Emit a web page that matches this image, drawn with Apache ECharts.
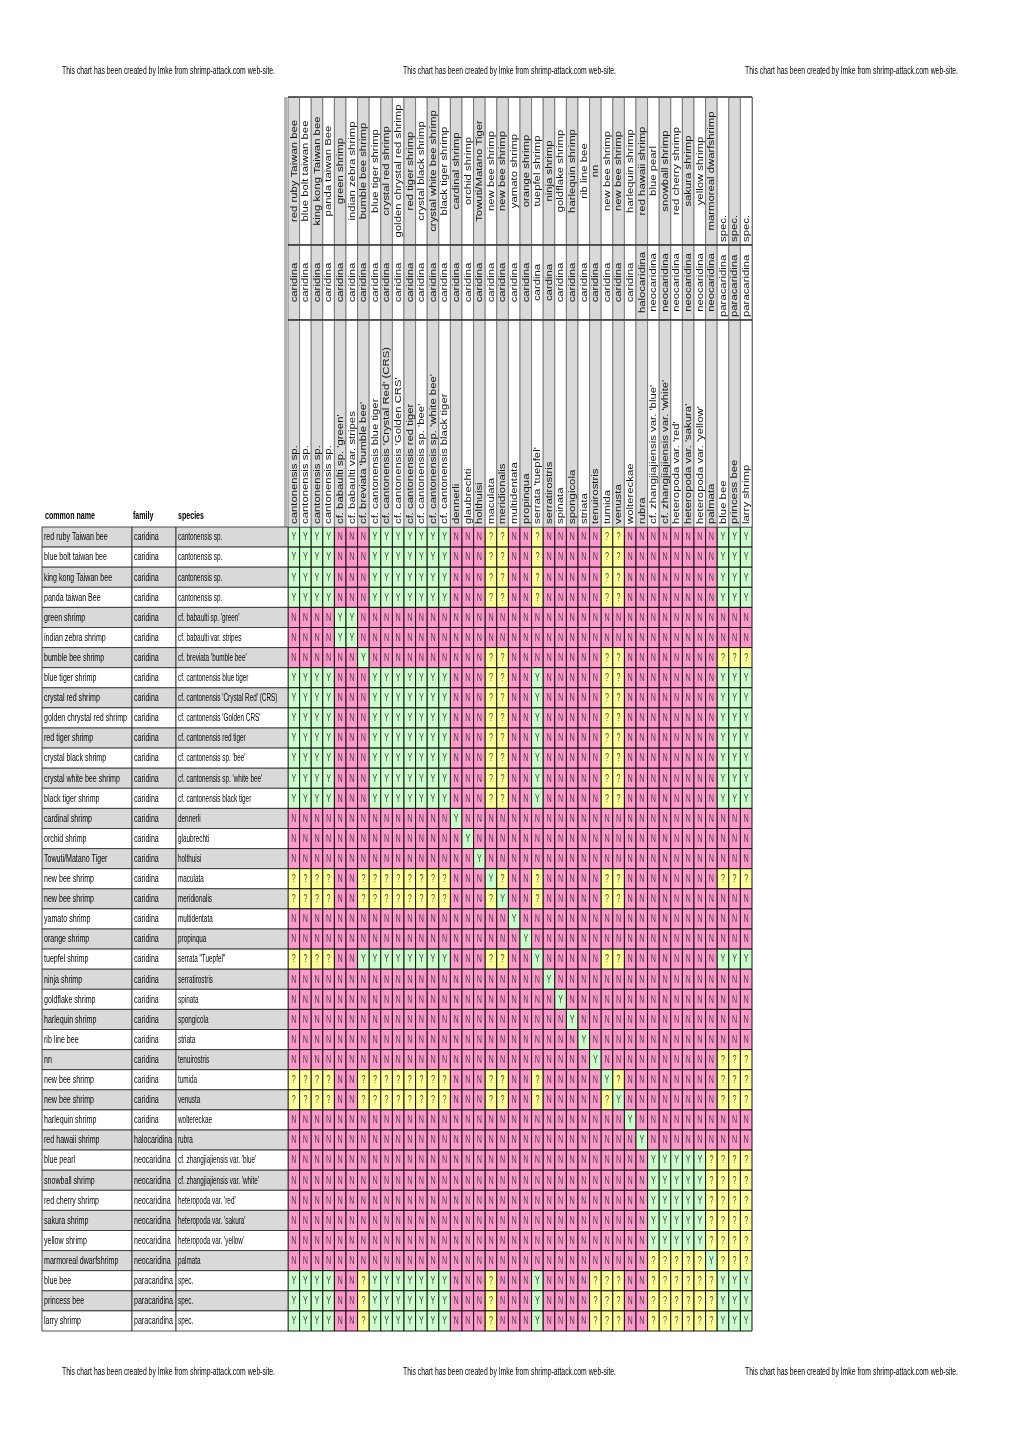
<!DOCTYPE html>
<html><head><meta charset="utf-8">
<script src="https://cdn.jsdelivr.net/npm/echarts@6/dist/echarts.min.js"></script>
<style>html,body{margin:0;padding:0;background:#fff}#chart{width:1020px;height:1442px}</style>
</head><body><div id="chart"></div>
<script>
// ---------- data ----------
const commonNames = ["red ruby Taiwan bee","blue bolt taiwan bee","king kong Taiwan bee","panda taiwan Bee","green shrimp","indian zebra shrimp","bumble bee shrimp","blue tiger shrimp","crystal red shrimp","golden chrystal red shrimp","red tiger shrimp","crystal black shrimp","crystal white bee shrimp","black tiger shrimp","cardinal shrimp","orchid shrimp","Towuti/Matano Tiger","new bee shrimp","new bee shrimp","yamato shrimp","orange shrimp","tuepfel shrimp","ninja shrimp","goldflake shrimp","harlequin shrimp","rib line bee","nn","new bee shrimp","new bee shrimp","harlequin shrimp","red hawaii shrimp","blue pearl","snowball shrimp","red cherry shrimp","sakura shrimp","yellow shrimp","marmoreal dwarfshrimp","blue bee","princess bee","larry shrimp"];
const families = ["caridina","caridina","caridina","caridina","caridina","caridina","caridina","caridina","caridina","caridina","caridina","caridina","caridina","caridina","caridina","caridina","caridina","caridina","caridina","caridina","caridina","caridina","caridina","caridina","caridina","caridina","caridina","caridina","caridina","caridina","halocaridina","neocaridina","neocaridina","neocaridina","neocaridina","neocaridina","neocaridina","paracaridina","paracaridina","paracaridina"];
const species = ["cantonensis sp.","cantonensis sp.","cantonensis sp.","cantonensis sp.","cf. babaulti sp. 'green'","cf. babaulti var. stripes","cf. breviata 'bumble bee'","cf. cantonensis blue tiger","cf. cantonensis 'Crystal Red' (CRS)","cf. cantonensis 'Golden CRS'","cf. cantonensis red tiger","cf. cantonensis sp. 'bee'","cf. cantonensis sp. 'white bee'","cf. cantonensis black tiger","dennerli","glaubrechti","holthuisi","maculata","meridionalis","multidentata","propinqua","serrata \"Tuepfel\"","serratirostris","spinata","spongicola","striata","tenuirostris","tumida","venusta","woltereckae","rubra","cf. zhangjiajiensis var. 'blue'","cf. zhangjiajiensis var. 'white'","heteropoda var. 'red'","heteropoda var. 'sakura'","heteropoda var. 'yellow'","palmata","spec.","spec.","spec."];
// column header texts (top / middle / bottom blocks)
const colCommon = ["red ruby Taiwan bee","blue bolt taiwan bee","king kong Taiwan bee","panda taiwan Bee","green shrimp","indian zebra shrimp","bumble bee shrimp","blue tiger shrimp","crystal red shrimp","golden chrystal red shrimp","red tiger shrimp","crystal black shrimp","crystal white bee shrimp","black tiger shrimp","cardinal shrimp","orchid shrimp","Towuti/Matano Tiger","new bee shrimp","new bee shrimp","yamato shrimp","orange shrimp","tuepfel shrimp","ninja shrimp","goldflake shrimp","harlequin shrimp","rib line bee","nn","new bee shrimp","new bee shrimp","harlequin shrimp","red hawaii shrimp","blue pearl","snowball shrimp","red cherry shrimp","sakura shrimp","yellow shrimp","marmoreal dwarfshrimp","spec.","spec.","spec."];
const colFamily = ["caridina","caridina","caridina","caridina","caridina","caridina","caridina","caridina","caridina","caridina","caridina","caridina","caridina","caridina","caridina","caridina","caridina","caridina","caridina","caridina","caridina","cardina","cardina","caridina","caridina","caridina","caridina","caridina","caridina","caridina","halocaridina","neocaridina","neocaridina","neocaridina","neocaridina","neocaridina","neocaridina","paracaridina","paracaridina","paracaridina"];
const colSpecies = ["cantonensis sp.","cantonensis sp.","cantonensis sp.","cantonensis sp.","cf. babaulti sp. 'green'","cf. babaulti var. stripes","cf. breviata 'bumble bee'","cf. cantonensis blue tiger","cf. cantonensis 'Crystal Red' (CRS)","cf. cantonensis 'Golden CRS'","cf. cantonensis red tiger","cf. cantonensis sp. 'bee'","cf. cantonensis sp. 'white bee'","cf. cantonensis black tiger","dennerli","glaubrechti","holthuisi","maculata","meridionalis","multidentata","propinqua","serrata 'tuepfel'","serratirostris","spinata","spongicola","striata","tenuirostris","tumida","venusta","woltereckae","rubra","cf. zhangjiajiensis var. 'blue'","cf. zhangjiajiensis var. 'white'","heteropoda var. 'red'","heteropoda var. 'sakura'","heteropoda var. 'yellow'","palmata","blue bee","princess bee","larry shrimp"];
// compatibility matrix: one string per row, one character per column
const compat = [
"YYYYNNNYYYYYYYNNN??NN?NNNNN??NNNNNNNNYYY",
"YYYYNNNYYYYYYYNNN??NN?NNNNN??NNNNNNNNYYY",
"YYYYNNNYYYYYYYNNN??NN?NNNNN??NNNNNNNNYYY",
"YYYYNNNYYYYYYYNNN??NN?NNNNN??NNNNNNNNYYY",
"NNNNYYNNNNNNNNNNNNNNNNNNNNNNNNNNNNNNNNNN",
"NNNNYYNNNNNNNNNNNNNNNNNNNNNNNNNNNNNNNNNN",
"NNNNNNYNNNNNNNNNN??NNNNNNNN??NNNNNNNN???",
"YYYYNNNYYYYYYYNNN??NNYNNNNN??NNNNNNNNYYY",
"YYYYNNNYYYYYYYNNN??NNYNNNNN??NNNNNNNNYYY",
"YYYYNNNYYYYYYYNNN??NNYNNNNN??NNNNNNNNYYY",
"YYYYNNNYYYYYYYNNN??NNYNNNNN??NNNNNNNNYYY",
"YYYYNNNYYYYYYYNNN??NNYNNNNN??NNNNNNNNYYY",
"YYYYNNNYYYYYYYNNN??NNYNNNNN??NNNNNNNNYYY",
"YYYYNNNYYYYYYYNNN??NNYNNNNN??NNNNNNNNYYY",
"NNNNNNNNNNNNNNYNNNNNNNNNNNNNNNNNNNNNNNNN",
"NNNNNNNNNNNNNNNYNNNNNNNNNNNNNNNNNNNNNNNN",
"NNNNNNNNNNNNNNNNYNNNNNNNNNNNNNNNNNNNNNNN",
"????NN????????NNNY?NN?NNNNN??NNNNNNNN???",
"????NN????????NNN?YNN?NNNNN??NNNNNNNNNNN",
"NNNNNNNNNNNNNNNNNNNYNNNNNNNNNNNNNNNNNNNN",
"NNNNNNNNNNNNNNNNNNNNYNNNNNNNNNNNNNNNNNNN",
"????NNYYYYYYYYNNN??NNYNNNNN??NNNNNNNNYYY",
"NNNNNNNNNNNNNNNNNNNNNNYNNNNNNNNNNNNNNNNN",
"NNNNNNNNNNNNNNNNNNNNNNNYNNNNNNNNNNNNNNNN",
"NNNNNNNNNNNNNNNNNNNNNNNNYNNNNNNNNNNNNNNN",
"NNNNNNNNNNNNNNNNNNNNNNNNNYNNNNNNNNNNNNNN",
"NNNNNNNNNNNNNNNNNNNNNNNNNNYNNNNNNNNNN???",
"????NN????????NNN??NN?NNNNNY?NNNNNNNN???",
"????NN????????NNN??NN?NNNNN?YNNNNNNNN???",
"NNNNNNNNNNNNNNNNNNNNNNNNNNNNNYNNNNNNNNNN",
"NNNNNNNNNNNNNNNNNNNNNNNNNNNNNNYNNNNNNNNN",
"NNNNNNNNNNNNNNNNNNNNNNNNNNNNNNNYYYYY????",
"NNNNNNNNNNNNNNNNNNNNNNNNNNNNNNNYYYYY????",
"NNNNNNNNNNNNNNNNNNNNNNNNNNNNNNNYYYYY????",
"NNNNNNNNNNNNNNNNNNNNNNNNNNNNNNNYYYYY????",
"NNNNNNNNNNNNNNNNNNNNNNNNNNNNNNNYYYYY????",
"NNNNNNNNNNNNNNNNNNNNNNNNNNNNNNN?????Y???",
"YYYYNN?YYYYYYYNNN?NNNYNNNN???NN??????YYY",
"YYYYNN?YYYYYYYNNN?NNNYNNNN???NN??????YYY",
"YYYYNN?YYYYYYYNNN?NNNYNNNN???NN??????YYY"
];
const tableHeads = ["common name","family","species"];
const watermark = "This chart has been created by Imke from shrimp-attack.com web-site.";

// ---------- styling ----------
const CODE_COLOR = {"Y":"#ccffcc","N":"#ff99cc","?":"#ffff99"};
const GRAY = "#d9d9d9";
const SANS = "'Liberation Sans',Arial,sans-serif";
const ROW_FONT = '10px ' + SANS;
const HEAD_FONT = '8.5px ' + SANS;
const WM_FONT = '10px ' + SANS;
const CELL_FONT = '10px ' + SANS;

const mctx = document.createElement('canvas').getContext('2d');
function textW(t, font) { mctx.font = font; return mctx.measureText(t).width; }
// horizontal compression factors so text widths match the reference layout
const rowScale = 83 / textW('golden chrystal red shrimp', ROW_FONT);
const speciesScale = rowScale * 0.9;
const headScale = 177 / textW("cf. cantonensis 'Crystal Red' (CRS)", HEAD_FONT);
const wmScale = 213 / textW(watermark, WM_FONT);

const idx = commonNames.map((_, i) => i);
const matrixItems = [];
compat.forEach((row, r) => { for (let c = 0; c < row.length; c++) matrixItems.push({value: [c, r], code: row[c]}); });

function cellBox(api, v) {
  const p = api.coord(v), s = api.size([1, 1]);
  return {x: p[0] - s[0] / 2, y: p[1] - s[1] / 2, w: s[0], h: s[1]};
}

function matrixRender(params, api) {
  const it = matrixItems[params.dataIndex];
  const b = cellBox(api, [api.value(0), api.value(1)]);
  return {type: 'group', children: [
    {type: 'rect', shape: {x: b.x, y: b.y, width: b.w, height: b.h},
     style: {fill: CODE_COLOR[it.code], stroke: '#111', lineWidth: 1}},
    {type: 'text', x: b.x + b.w / 2, y: b.y + b.h / 2 + 0.5, scaleX: 0.72,
     style: {text: it.code, font: CELL_FONT, fill: '#444', align: 'center', verticalAlign: 'middle'}}
  ]};
}

function headerRender(texts, section) {
  return function (params, api) {
    const i = params.dataIndex;
    const b = cellBox(api, [api.value(0), 0]);
    const bottom = section === 2 || i >= 37;
    return {type: 'group', children: [
      {type: 'rect', shape: {x: b.x, y: b.y, width: b.w, height: b.h},
       style: {fill: i % 2 === 0 ? GRAY : '#fff', stroke: '#666', lineWidth: 0.8}},
      {type: 'line', shape: {x1: b.x, y1: b.y, x2: b.x + b.w, y2: b.y}, style: {stroke: '#000', lineWidth: 1}},
      {type: 'text', x: b.x + b.w / 2 + 0.5, y: bottom ? b.y + b.h - 3 : b.y + b.h / 2,
       rotation: Math.PI / 2, scaleX: headScale,
       style: {text: texts[i], font: HEAD_FONT, fill: '#111', align: bottom ? 'left' : 'center', verticalAlign: 'middle'}}
    ]};
  };
}

function rowRender(texts, scale) {
  return function (params, api) {
    const i = params.dataIndex;
    const b = cellBox(api, [0, api.value(1)]);
    return {type: 'group', children: [
      {type: 'rect', shape: {x: b.x, y: b.y, width: b.w, height: b.h},
       style: {fill: i % 2 === 0 ? GRAY : '#fff', stroke: '#222', lineWidth: 0.8}},
      {type: 'text', x: b.x + 2, y: b.y + b.h / 2 + 0.5, scaleX: scale,
       style: {text: texts[i], font: ROW_FONT, fill: '#000', align: 'left', verticalAlign: 'middle'}}
    ]};
  };
}

const grids = [
  {left: 288, top: 527, width: 464, height: 804},
  {left: 288, top: 97, width: 464, height: 148},
  {left: 288, top: 245, width: 464, height: 75},
  {left: 288, top: 320, width: 464, height: 207},
  {left: 42, top: 527, width: 90, height: 804},
  {left: 132, top: 527, width: 44, height: 804},
  {left: 176, top: 527, width: 112, height: 804}
];
const xAxes = grids.map((g, k) => ({type: 'category', gridIndex: k, show: false,
  data: k <= 3 ? idx : ['c'], boundaryGap: true}));
const yAxes = grids.map((g, k) => ({type: 'category', gridIndex: k, show: false,
  data: (k === 0 || k >= 4) ? idx : ['h'], inverse: true, boundaryGap: true}));

const series = [
  {type: 'custom', xAxisIndex: 0, yAxisIndex: 0, renderItem: matrixRender, data: matrixItems, silent: true},
  {type: 'custom', xAxisIndex: 1, yAxisIndex: 1, renderItem: headerRender(colCommon, 0), data: colCommon.map((t, i) => [i, 0]), silent: true},
  {type: 'custom', xAxisIndex: 2, yAxisIndex: 2, renderItem: headerRender(colFamily, 1), data: colFamily.map((t, i) => [i, 0]), silent: true},
  {type: 'custom', xAxisIndex: 3, yAxisIndex: 3, renderItem: headerRender(colSpecies, 2), data: colSpecies.map((t, i) => [i, 0]), silent: true},
  {type: 'custom', xAxisIndex: 4, yAxisIndex: 4, renderItem: rowRender(commonNames, rowScale), data: commonNames.map((t, i) => [0, i]), silent: true},
  {type: 'custom', xAxisIndex: 5, yAxisIndex: 5, renderItem: rowRender(families, rowScale), data: families.map((t, i) => [0, i]), silent: true},
  {type: 'custom', xAxisIndex: 6, yAxisIndex: 6, renderItem: rowRender(species, speciesScale), data: species.map((t, i) => [0, i]), silent: true}
];

const graphics = [];
[62, 403, 745].forEach(x => {
  [71, 1372].forEach(y => {
    graphics.push({type: 'text', x: x, y: y, scaleX: wmScale, silent: true,
      style: {text: watermark, font: WM_FONT, fill: '#000', verticalAlign: 'middle'}});
  });
});
[45, 133, 178].forEach((x, k) => {
  graphics.push({type: 'text', x: x, y: 516, scaleX: rowScale, silent: true,
    style: {text: tableHeads[k], font: 'bold ' + ROW_FONT, fill: '#000', verticalAlign: 'middle'}});
});
graphics.push({type: 'rect', x: 284, y: 97, shape: {x: 0, y: 0, width: 3, height: 1234}, style: {fill: '#b4b4b4'}, silent: true});
graphics.push({type: 'line', shape: {x1: 752, y1: 97, x2: 752, y2: 527}, style: {stroke: '#000', lineWidth: 1}, silent: true});

const chart = echarts.init(document.getElementById('chart'), null, {renderer: 'canvas'});
chart.setOption({
  animation: false,
  backgroundColor: '#fff',
  grid: grids,
  xAxis: xAxes,
  yAxis: yAxes,
  series: series,
  graphic: graphics
});
</script>
</body></html>
